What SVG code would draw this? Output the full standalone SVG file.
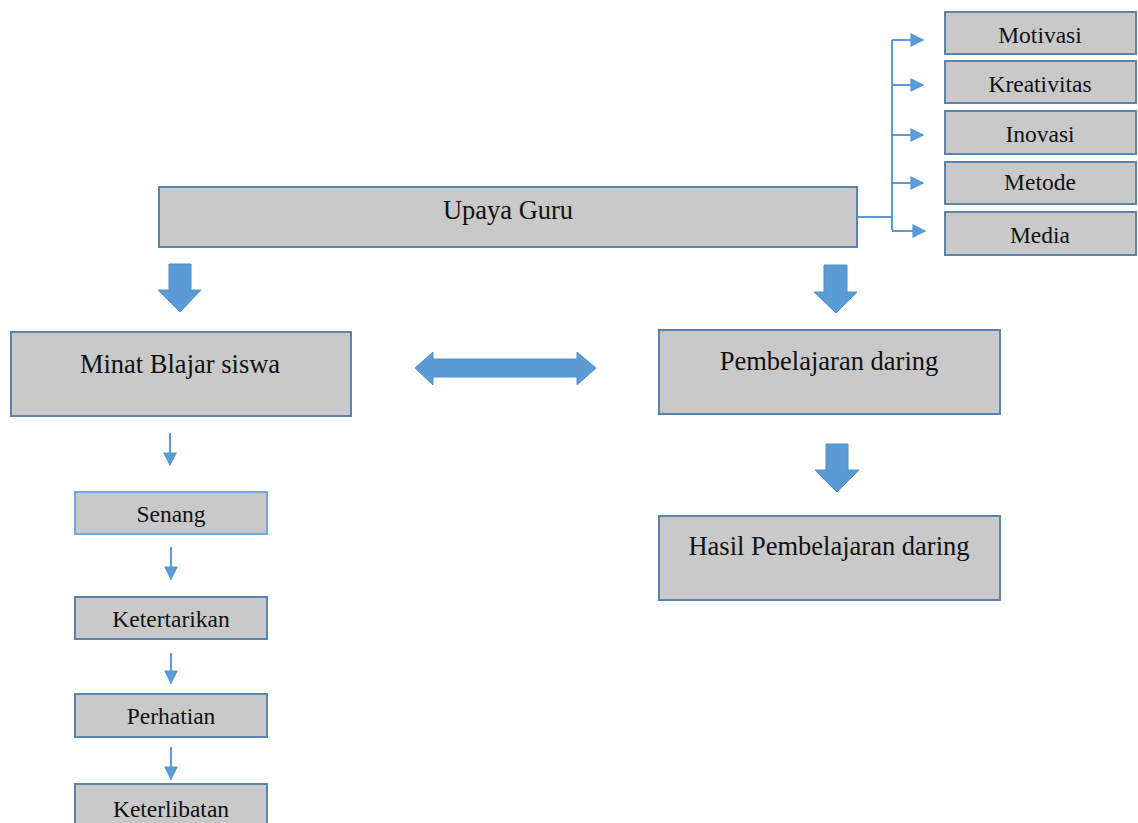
<svg xmlns="http://www.w3.org/2000/svg" width="1138" height="823" viewBox="0 0 1138 823">
<defs>
<style>
.box{fill:#c9c9c9;stroke:#5a84b0;stroke-width:2}
.lbox{fill:#c9c9c9;stroke:#6fa8dc;stroke-width:2}
.t{font-family:"Liberation Serif","Times New Roman",serif;fill:#111;text-anchor:middle}
.big{font-size:26.5px}
.sm{font-size:23.5px}
.blk{fill:#5b9bd5;stroke:#5590c8;stroke-width:1}
.ln{stroke:#5b9bd5;stroke-width:2;fill:none}
</style>
<marker id="ah2" viewBox="0 0 10 10" refX="9" refY="5" markerWidth="7" markerHeight="7" orient="auto">
<path d="M0,0 L10,5 L0,10 z" fill="#5b9bd5"/>
</marker>
</defs>
<rect width="1138" height="823" fill="#ffffff"/>

<g id="connectors">
<path class="ln" d="M857,217 L892,217 M892,40 L892,230"/>
<line class="ln" x1="892" y1="40" x2="923" y2="40" marker-end="url(#ah2)"/>
<line class="ln" x1="892" y1="85" x2="923" y2="85" marker-end="url(#ah2)"/>
<line class="ln" x1="892" y1="135" x2="923" y2="135" marker-end="url(#ah2)"/>
<line class="ln" x1="892" y1="183" x2="923" y2="183" marker-end="url(#ah2)"/>
<line class="ln" x1="892" y1="231" x2="925" y2="231" marker-end="url(#ah2)"/>
<polygon class="blk" points="169,264 191,264 191,290 201,290 180,312 158,290 169,290"/>
<polygon class="blk" points="824,265 847,265 847,292 857,292 836,313 814,292 824,292"/>
<polygon class="blk" points="826,444 848,444 848,470 859,470 837,492 815,470 826,470"/>
<polygon class="blk" points="415,368 433,352 433,359 577,359 577,352 596,368 577,385 577,377 433,377 433,385"/>
<line class="ln" x1="170" y1="433" x2="170" y2="465" marker-end="url(#ah2)"/>
<line class="ln" x1="171" y1="547" x2="171" y2="579" marker-end="url(#ah2)"/>
<line class="ln" x1="171" y1="653" x2="171" y2="683" marker-end="url(#ah2)"/>
<line class="ln" x1="171" y1="747" x2="171" y2="779" marker-end="url(#ah2)"/>
</g>

<g id="upaya-guru">
<rect class="box" x="159" y="187" width="698" height="60"/>
<text class="t big" x="508" y="219">Upaya Guru</text>
</g>
<g id="motivasi">
<rect class="box" x="945" y="12" width="191" height="42"/>
<text class="t sm" x="1040" y="43">Motivasi</text>
</g>
<g id="kreativitas">
<rect class="box" x="945" y="61" width="191" height="42"/>
<text class="t sm" x="1040" y="92">Kreativitas</text>
</g>
<g id="inovasi">
<rect class="box" x="945" y="111" width="191" height="43"/>
<text class="t sm" x="1040" y="142">Inovasi</text>
</g>
<g id="metode">
<rect class="box" x="945" y="162" width="191" height="42"/>
<text class="t sm" x="1040" y="190">Metode</text>
</g>
<g id="media">
<rect class="box" x="945" y="212" width="191" height="43"/>
<text class="t sm" x="1040" y="243">Media</text>
</g>
<g id="minat-blajar-siswa">
<rect class="box" x="11" y="332" width="340" height="84"/>
<text class="t big" x="180" y="373">Minat Blajar siswa</text>
</g>
<g id="pembelajaran-daring">
<rect class="box" x="659" y="330" width="341" height="84"/>
<text class="t big" x="829" y="370">Pembelajaran daring</text>
</g>
<g id="hasil-pembelajaran-daring">
<rect class="box" x="659" y="516" width="341" height="84"/>
<text class="t big" x="829" y="555">Hasil Pembelajaran daring</text>
</g>
<g id="senang">
<rect class="lbox" x="75" y="492" width="192" height="42"/>
<text class="t sm" x="171" y="522">Senang</text>
</g>
<g id="ketertarikan">
<rect class="box" x="75" y="597" width="192" height="42"/>
<text class="t sm" x="171" y="627">Ketertarikan</text>
</g>
<g id="perhatian">
<rect class="box" x="75" y="694" width="192" height="43"/>
<text class="t sm" x="171" y="724">Perhatian</text>
</g>
<g id="keterlibatan">
<rect class="box" x="75" y="784" width="192" height="50"/>
<text class="t sm" x="171" y="817">Keterlibatan</text>
</g>
</svg>
